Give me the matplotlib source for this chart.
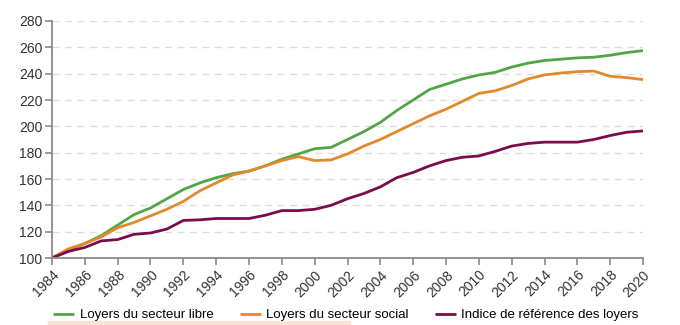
import matplotlib
matplotlib.use("Agg")
import matplotlib.pyplot as plt
from matplotlib.patches import Rectangle

# --- Indices base 100 en 1984 ---
years = list(range(1984, 2021))

loyers_libre = [100, 106, 111, 117, 125, 133, 138, 145, 152, 157,
                161, 164, 166, 170, 175, 179, 183, 184, 190, 196,
                203, 212, 220, 228, 232, 236, 239, 241, 245, 248,
                250, 251, 252, 252.5, 254, 256, 257.5]

loyers_social = [100, 107, 111, 116, 123, 127, 132, 137, 143, 151,
                 157, 163, 166, 170, 174, 177, 174, 174.5, 179, 185,
                 190, 196, 202, 208, 213, 219, 225, 227, 231, 236,
                 239, 240.5, 241.5, 242, 238, 237, 235.5]

indice_irl = [100, 105, 108, 113, 114, 118, 119, 122, 128.5, 129,
              130, 130, 130, 132.5, 136, 136, 137, 140, 145, 149,
              154, 161, 165, 170, 174, 176.5, 177.5, 181, 185, 187,
              188, 188, 188, 190, 193, 195.5, 196.5]

series_labels = ["Loyers du secteur libre", "Loyers du secteur social",
                 "Indice de référence des loyers"]
x_ticks = list(range(1984, 2021, 2))
y_ticks = list(range(100, 281, 20))

colors = ["#52a547", "#e3892c", "#7b0c4c"]
axis_grey = "#8a8a8a"

plt.rcParams['font.family'] = ['Liberation Sans', 'DejaVu Sans']

fig = plt.figure(figsize=(6.8, 3.25), dpi=100)
ax = fig.add_axes([52 / 680, 1 - 258 / 325, (643 - 52) / 680, (258 - 21) / 325])

for vals, lab, col in zip([loyers_libre, loyers_social, indice_irl], series_labels, colors):
    ax.plot(years, vals, color=col, lw=2.0, label=lab, solid_capstyle='butt')

ax.set_xlim(1984, 2020)
ax.set_ylim(100, 280)
ax.set_xticks(x_ticks)
ax.set_xticklabels([str(y) for y in x_ticks], rotation=45, ha='right',
                   rotation_mode='anchor', fontsize=10, color="#333333")
ax.set_yticks(y_ticks)
ax.set_yticklabels([str(y) for y in y_ticks], fontsize=10, color="#333333")

ax.grid(axis='y', color="#dddddd", linestyle=(0, (5, 4)), lw=1.0)
ax.set_axisbelow(True)

for side in ['top', 'right']:
    ax.spines[side].set_visible(False)
for side in ['left', 'bottom']:
    ax.spines[side].set_color(axis_grey)
    ax.spines[side].set_linewidth(1.3)
ax.tick_params(axis='both', color=axis_grey, width=1.2, length=5, pad=2)

fig.legend(loc='center', bbox_to_anchor=(346 / 680, 1 - 315 / 325), ncol=3,
           frameon=False, fontsize=9.5, handlelength=1.6, handletextpad=0.4,
           columnspacing=2.0, borderpad=0, borderaxespad=0)

# pale band along the bottom edge
fig.patches.append(Rectangle((48 / 680, 0), (350 - 48) / 680, 4 / 325,
                             transform=fig.transFigure, color="#fbe3d6", zorder=0))

fig.savefig("out.png", dpi=100)
